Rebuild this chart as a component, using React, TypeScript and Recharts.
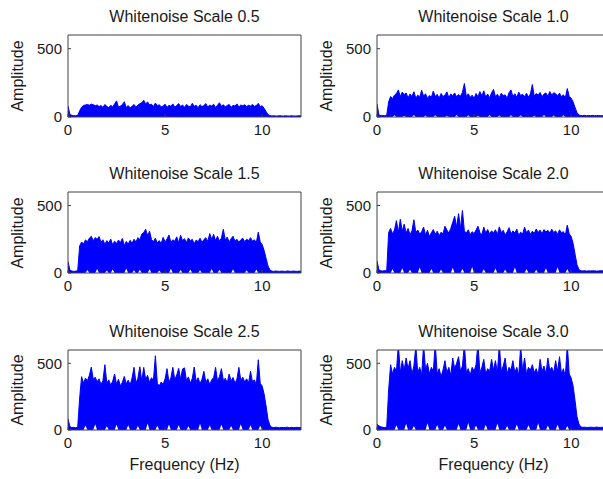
import React from 'react';
import { AreaChart, Area, XAxis, YAxis } from 'recharts';

// frequency grid, 0..12 Hz in 0.1 Hz steps
const freqHz = Array.from({ length: 121 }, (_, i) => i / 10);
const xTicks = [0, 5, 10];
const yTicks = [0, 500];

// amplitude, one value per 0.1 Hz (rows of 10)
const scale05 = [
  80, 18, 12, 10, 9, 12, 45, 72, 85, 88,
  92, 86, 94, 90, 83, 88, 76, 84, 70, 92,
  78, 68, 86, 74, 96, 118, 72, 80, 90, 112,
  70, 84, 66, 78, 92, 74, 86, 98, 104, 122,
  96, 110, 88, 94, 76, 102, 82, 90, 74, 80,
  94, 70, 86, 78, 96, 72, 84, 98, 76, 88,
  70, 92, 80, 74, 100, 78, 86, 68, 90, 76,
  84, 98, 72, 88, 80, 94, 70, 86, 104, 78,
  90, 74, 84, 92, 70, 86, 80, 96, 74, 88,
  82, 90, 76, 86, 80, 92, 78, 84, 100, 76,
  82, 64, 40, 18, 10, 8, 9, 7, 8, 10,
  8, 7, 9, 8, 7, 9, 8, 7, 8, 9,
  8,
];

const scale10 = [
  95, 14, 10, 11, 9, 12, 110, 150, 135, 160,
  172, 198, 150, 182, 164, 176, 140, 168, 150, 185,
  138, 160, 146, 195, 152, 170, 136, 158, 144, 190,
  150, 166, 138, 172, 150, 160, 184, 142, 168, 156,
  176, 148, 164, 152, 180, 245, 150, 170, 144, 160,
  136, 172, 148, 186, 154, 192, 146, 168, 140, 176,
  202, 150, 166, 142, 174, 156, 162, 138, 178, 198,
  150, 170, 144, 182, 158, 166, 150, 174, 146, 168,
  238, 152, 172, 160, 180, 148, 168, 176, 152, 186,
  160, 178, 170, 156, 174, 148, 162, 140, 208, 150,
  138, 110, 70, 32, 14, 11, 10, 12, 9, 11,
  10, 12, 9, 10, 11, 9, 10, 12, 10, 9,
  11,
];

const scale15 = [
  85, 20, 15, 12, 14, 16, 200, 230, 215, 245,
  232, 258, 272, 238, 262, 250, 270, 228, 246, 212,
  240, 222, 252, 208, 236, 218, 244, 226, 256, 204,
  234, 214, 242, 220, 250, 230, 262, 246, 288, 300,
  324, 276, 310, 248, 232, 258, 222, 240, 218, 264,
  230, 252, 282, 226, 246, 236, 268, 224, 280, 240,
  254, 226, 260, 238, 250, 216, 244, 232, 258, 226,
  248, 262, 234, 292, 250, 286, 240, 272, 236, 258,
  324, 244, 266, 230, 254, 272, 236, 250, 228, 246,
  258, 232, 250, 240, 262, 236, 246, 224, 303, 230,
  210, 168, 110, 52, 22, 14, 12, 15, 13, 12,
  14, 13, 12, 15, 13, 12, 14, 13, 12, 14,
  13,
];

const scale20 = [
  90, 22, 16, 14, 18, 15, 300, 330, 290, 318,
  388, 300, 398, 310, 362, 296, 330, 284, 312, 394,
  300, 318, 288, 306, 340, 282, 316, 270, 298, 322,
  286, 310, 276, 302, 290, 346, 318, 296, 330, 376,
  420, 340, 440, 330, 463, 312, 296, 320, 284, 306,
  292, 318, 346, 300, 284, 340, 296, 322, 288, 312,
  298, 320, 286, 342, 300, 316, 282, 304, 336, 290,
  312, 296, 324, 280, 302, 288, 340, 298, 318, 286,
  310, 294, 326, 300, 318, 290, 322, 304, 316, 296,
  324, 300, 312, 286, 320, 298, 306, 280, 355, 290,
  270, 220, 140, 62, 26, 16, 15, 17, 14, 16,
  15, 17, 16, 14, 15, 17, 16, 15, 14, 16,
  15,
];

const scale25 = [
  85, 25, 18, 20, 16, 22, 240, 400, 352, 388,
  370, 410, 472, 380, 396, 362, 384, 340, 372, 490,
  350, 376, 336, 366, 420, 344, 380, 330, 358, 402,
  346, 374, 338, 390, 470, 352, 388, 474, 364, 470,
  380, 410, 356, 392, 372, 557, 350, 330, 360, 342,
  384, 460, 358, 392, 470, 376, 412, 462, 380, 458,
  466, 370, 398, 352, 386, 472, 364, 392, 348, 380,
  440, 356, 384, 340, 376, 392, 470, 366, 400, 460,
  372, 388, 354, 420, 368, 394, 350, 382, 470, 372,
  396, 360, 384, 354, 440, 362, 376, 340, 527, 350,
  330, 270, 180, 80, 34, 20, 18, 21, 19, 17,
  20, 18, 19, 21, 17, 20, 18, 19, 20, 18,
  19,
];

const scale30 = [
  45, 30, 24, 20, 18, 22, 300, 490, 420, 470,
  440, 640, 430, 520, 450, 540, 460, 520, 420, 480,
  630, 430, 470, 410, 640, 450, 500, 420, 470, 440,
  650, 420, 460, 400, 450, 520, 430, 470, 410, 540,
  460, 500, 550, 440, 480, 640, 430, 460, 410, 470,
  440, 490, 650, 430, 470, 530, 420, 460, 440, 530,
  450, 520, 430, 640, 440, 480, 540, 420, 470, 450,
  520, 430, 470, 410, 630, 440, 540, 420, 470, 450,
  490, 430, 460, 410, 530, 440, 480, 420, 540, 450,
  470, 430, 520, 440, 550, 420, 460, 400, 640, 420,
  390, 330, 220, 100, 45, 22, 20, 21, 19, 20,
  21, 20, 19, 22, 20, 19, 21, 20, 19, 21,
  20,
];

// near-zero dips inside the band (white notches along the bottom)
const dipFreq10 = [0.9, 1.4, 1.9, 2.5, 3.0, 3.6, 4.1, 4.7, 5.2, 5.8, 6.3, 6.9, 7.4, 8.1, 8.6, 9.1, 9.6];
const dipAmp10 = [12, 10, 14, 11, 13, 10, 15, 12, 10, 14, 11, 13, 12, 10, 14, 11, 12];
const dipFreq15 = [1.0, 1.5, 2.0, 2.3, 3.0, 3.4, 3.7, 4.2, 4.7, 5.3, 5.8, 6.3, 6.8, 7.4, 7.8, 8.5, 9.2, 9.7];
const dipAmp15 = [22, 30, 18, 26, 34, 20, 24, 28, 18, 32, 22, 26, 20, 30, 24, 28, 20, 26];
const dipFreq20 = [0.8, 1.3, 1.7, 2.2, 2.8, 3.3, 3.9, 4.4, 4.9, 5.5, 6.1, 6.6, 7.1, 7.7, 8.2, 8.7, 9.3, 9.8];
const dipAmp20 = [28, 36, 24, 40, 30, 26, 38, 32, 44, 28, 34, 26, 40, 30, 24, 36, 42, 30];
const dipFreq25 = [0.9, 1.4, 2.0, 2.5, 3.1, 3.6, 4.1, 4.6, 5.2, 5.7, 6.2, 6.8, 7.3, 7.9, 8.4, 8.9, 9.4, 9.9];
const dipAmp25 = [34, 44, 28, 40, 36, 30, 48, 32, 42, 36, 28, 46, 34, 40, 30, 44, 36, 32];
const dipFreq30 = [1.0, 1.5, 1.9, 2.6, 3.1, 3.5, 4.2, 4.7, 5.1, 5.6, 6.2, 6.7, 7.2, 7.8, 8.3, 8.8, 9.3, 9.8];
const dipAmp30 = [36, 46, 30, 50, 38, 32, 44, 52, 34, 40, 48, 30, 42, 36, 50, 34, 40, 30];

const panels = [
  { title: 'Whitenoise Scale 0.5', values: scale05, dipFreq: [] as number[], dipAmp: [] as number[] },
  { title: 'Whitenoise Scale 1.0', values: scale10, dipFreq: dipFreq10, dipAmp: dipAmp10 },
  { title: 'Whitenoise Scale 1.5', values: scale15, dipFreq: dipFreq15, dipAmp: dipAmp15 },
  { title: 'Whitenoise Scale 2.0', values: scale20, dipFreq: dipFreq20, dipAmp: dipAmp20 },
  { title: 'Whitenoise Scale 2.5', values: scale25, dipFreq: dipFreq25, dipAmp: dipAmp25 },
  { title: 'Whitenoise Scale 3.0', values: scale30, dipFreq: dipFreq30, dipAmp: dipAmp30 },
];

const FONT = '"Liberation Sans", Arial, Helvetica, sans-serif';
const FRAME = '#404040';
const TEXT = '#1a1a1a';
const BLUE = '#0000ff';

const colLeft = [68, 377];
const rowTop = [35, 192, 350];
const rowHeight = [82, 81, 80];
const PLOT_W = 233;

interface PanelProps {
  title: string;
  values: number[];
  dipFreq: number[];
  dipAmp: number[];
  plotLeft: number;
  plotTop: number;
  plotHeight: number;
  showXLabel: boolean;
}

const NoisePanel: React.FC<PanelProps> = ({
  title,
  values,
  dipFreq,
  dipAmp,
  plotLeft,
  plotTop,
  plotHeight,
  showXLabel,
}) => {
  const dipAt: Record<number, number> = {};
  dipFreq.forEach((f, k) => {
    dipAt[Math.round(f * 10)] = dipAmp[k];
  });
  const data = freqHz.map((f, i) => ({ f, amp: values[i], gap: dipAt[i] ?? 0 }));

  return (
    <>
      <div
        style={{
          position: 'absolute',
          left: plotLeft,
          top: plotTop - 28,
          width: PLOT_W,
          textAlign: 'center',
          fontSize: 16,
          lineHeight: '20px',
          color: TEXT,
          whiteSpace: 'nowrap',
        }}
      >
        {title}
      </div>
      <div
        style={{
          position: 'absolute',
          left: plotLeft - 100,
          top: plotTop + plotHeight / 2 - 10,
          width: 100,
          height: 20,
          lineHeight: '20px',
          textAlign: 'center',
          fontSize: 16,
          color: TEXT,
          transform: 'rotate(-90deg)',
        }}
      >
        Amplitude
      </div>
      {showXLabel && (
        <div
          style={{
            position: 'absolute',
            left: plotLeft,
            top: plotTop + plotHeight + 25,
            width: PLOT_W,
            textAlign: 'center',
            fontSize: 16,
            lineHeight: '20px',
            color: TEXT,
          }}
        >
          Frequency (Hz)
        </div>
      )}
      <div style={{ position: 'absolute', left: plotLeft - 68, top: plotTop - 11 }}>
        <AreaChart
          width={310}
          height={11 + plotHeight + 30}
          data={data}
          margin={{ top: 10, right: 8, bottom: 0, left: 0 }}
        >
          <XAxis
            dataKey="f"
            type="number"
            domain={[0, 12]}
            ticks={xTicks}
            allowDataOverflow
            height={30}
            axisLine={{ stroke: FRAME }}
            tickLine={{ stroke: FRAME }}
            tickSize={-3}
            tickMargin={10}
            tick={{ fontSize: 15, fill: TEXT }}
          />
          <XAxis
            xAxisId="top"
            orientation="top"
            dataKey="f"
            type="number"
            domain={[0, 12]}
            ticks={xTicks}
            allowDataOverflow
            height={1}
            axisLine={{ stroke: FRAME }}
            tickLine={{ stroke: FRAME }}
            tickSize={-3}
            tick={false}
          />
          <YAxis
            type="number"
            domain={[0, 600]}
            ticks={yTicks}
            allowDataOverflow
            width={68}
            axisLine={{ stroke: FRAME }}
            tickLine={{ stroke: FRAME }}
            tickSize={-3}
            tickMargin={9}
            tick={{ fontSize: 15, fill: TEXT }}
          />
          <YAxis
            yAxisId="right"
            orientation="right"
            type="number"
            domain={[0, 600]}
            ticks={yTicks}
            allowDataOverflow
            width={1}
            axisLine={{ stroke: FRAME }}
            tickLine={{ stroke: FRAME }}
            tickSize={-3}
            tick={false}
          />
          <Area
            type="linear"
            dataKey="amp"
            stroke={BLUE}
            strokeWidth={1}
            fill={BLUE}
            fillOpacity={1}
            dot={false}
            activeDot={false}
            isAnimationActive={false}
          />
          <Area
            type="linear"
            dataKey="gap"
            stroke="none"
            fill="#ffffff"
            fillOpacity={1}
            dot={false}
            activeDot={false}
            isAnimationActive={false}
          />
        </AreaChart>
      </div>
    </>
  );
};

export default function App() {
  return (
    <div
      style={{
        position: 'absolute',
        left: 0,
        top: 0,
        width: 603,
        height: 479,
        overflow: 'hidden',
        background: '#fff',
        fontFamily: FONT,
      }}
    >
      {panels.map((p, i) => {
        const row = Math.floor(i / 2);
        const col = i % 2;
        return (
          <NoisePanel
            key={p.title}
            title={p.title}
            values={p.values}
            dipFreq={p.dipFreq}
            dipAmp={p.dipAmp}
            plotLeft={colLeft[col]}
            plotTop={rowTop[row]}
            plotHeight={rowHeight[row]}
            showXLabel={row === 2}
          />
        );
      })}
    </div>
  );
}
